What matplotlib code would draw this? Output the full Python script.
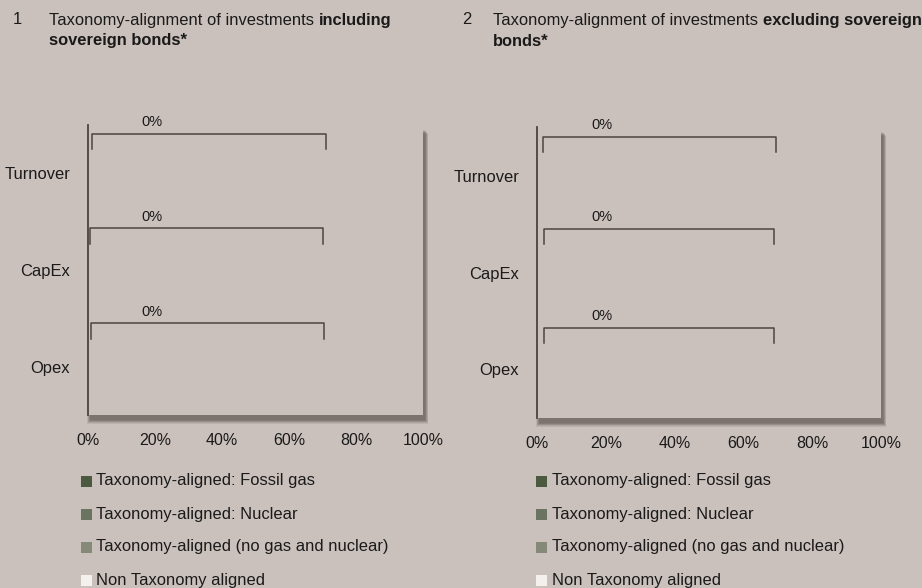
import matplotlib
matplotlib.use("Agg")
import matplotlib.pyplot as plt
from matplotlib.patches import Rectangle
import numpy as np

plt.rcParams['font.family'] = ['Liberation Sans', 'DejaVu Sans']

# ---------------- data ----------------
categories = ["Turnover", "CapEx", "Opex"]
series_names = ["Taxonomy-aligned: Fossil gas",
                "Taxonomy-aligned: Nuclear",
                "Taxonomy-aligned (no gas and nuclear)",
                "Non Taxonomy aligned"]
series_colors = ["#4b5a3f", "#6b7461", "#858a78", "#f3f0ee"]
# values (%) per series per category, panel 1 (incl. sovereign bonds) and panel 2 (excl.)
incl_fossil = [0, 0, 0]
incl_nuclear = [0, 0, 0]
incl_other = [0, 0, 0]
incl_non = [0, 0, 0]
excl_fossil = [0, 0, 0]
excl_nuclear = [0, 0, 0]
excl_other = [0, 0, 0]
excl_non = [0, 0, 0]
bracket_labels_incl = ["0%", "0%", "0%"]
bracket_labels_excl = ["0%", "0%", "0%"]
xticks = [0, 20, 40, 60, 80, 100]
xtick_labels = ["0%", "20%", "40%", "60%", "80%", "100%"]

BG = "#cbc1bc"
INK = "#1a1a1a"
W, H = 922, 588
fig = plt.figure(figsize=(W / 100, H / 100), dpi=100, facecolor=BG)
FS = 11.9


def fx(px):
    return px / W


def fy(py):
    return 1 - py / H


def panel(x0, x1, y0, y1, series, brackets, b_left, b_right, b_top):
    rect = [fx(x0), fy(y1), fx(x1) - fx(x0), fy(y0) - fy(y1)]
    # drop shadow
    for i in range(7):
        sh = Rectangle((fx(x0 + 2 - i * 0.5), fy(y1 + 5 + i * 0.6)),
                       fx(x1 - x0 + i), (fy(y0) - fy(y1)),
                       transform=fig.transFigure, facecolor="#3a3430",
                       edgecolor="none", alpha=0.10, zorder=0)
        fig.patches.append(sh)
    ax = fig.add_axes(rect, facecolor=BG, zorder=1)
    y = np.arange(len(categories))
    left = np.zeros(len(categories))
    for vals, col in zip(series, series_colors):
        ax.barh(y, vals, left=left, height=0.45, color=col)
        left = left + np.array(vals)
    ax.set_xlim(0, 100)
    ax.set_ylim(len(categories) - 0.5, -0.5)
    ax.set_yticks(y)
    ax.set_yticklabels(categories, fontsize=FS, color=INK)
    ax.set_xticks(xticks)
    ax.set_xticklabels(xtick_labels, fontsize=11.5, color=INK)
    ax.tick_params(axis='both', length=0)
    ax.tick_params(axis='y', pad=13)
    ax.tick_params(axis='x', pad=13)
    for s in ["top", "right", "bottom"]:
        ax.spines[s].set_visible(False)
    ax.spines["left"].set_color("#4a4440")
    ax.spines["left"].set_linewidth(1.3)
    for i, lab in enumerate(brackets):
        top = i - b_top[i]
        bot = top + 0.16
        bl, br = b_left[i], b_right[i]
        ax.plot([bl, bl, br, br], [bot, top, top, bot], color="#4a4440",
                lw=1.1, solid_joinstyle='round', clip_on=False)
        ax.text(19, top - 0.12, lab, fontsize=10.5, color=INK,
                ha='center', va='center')
    return ax


panel(88, 423, 125, 415,
      [incl_fossil, incl_nuclear, incl_other, incl_non],
      bracket_labels_incl, [1.2, 0.6, 0.9], [71.0, 70.0, 70.3], [0.41, 0.43, 0.45])
panel(537, 881, 127, 418,
      [excl_fossil, excl_nuclear, excl_other, excl_non],
      bracket_labels_excl, [1.8, 1.9, 1.9], [69.5, 68.8, 68.8], [0.40, 0.45, 0.43])


def title(num, x_num, x_txt, regular, bold1, bold2):
    fig.text(fx(x_num), fy(20), num, fontsize=FS, color=INK, va='center')
    t = fig.text(fx(x_txt), fy(20), regular, fontsize=FS, color=INK, va='center')
    plt.annotate(bold1, xy=(1, 0), xycoords=t, xytext=(3.5, 0),
                 textcoords='offset points', fontsize=FS, color=INK,
                 fontweight='bold', va='bottom', ha='left',
                 annotation_clip=False)
    fig.text(fx(x_txt), fy(41), bold2, fontsize=FS, color=INK,
             va='center', fontweight='bold')


title("1", 13, 49, "Taxonomy-alignment of investments", "including",
      "sovereign bonds*")
title("2", 462, 493, "Taxonomy-alignment of investments",
      "excluding sovereign", "bonds*")

# legends
rows_y = [481, 514, 547, 580]
for sq_x, tx in [(81, 96), (536, 552)]:
    for name, col, ry in zip(series_names, series_colors, rows_y):
        fig.patches.append(Rectangle((fx(sq_x), fy(ry + 5.5)), fx(11), fy(0) - fy(11),
                                     transform=fig.transFigure, facecolor=col,
                                     edgecolor='none'))
        fig.text(fx(tx), fy(ry), name, fontsize=FS, color=INK, va='center')

fig.savefig("out.png", dpi=100, facecolor=BG)
